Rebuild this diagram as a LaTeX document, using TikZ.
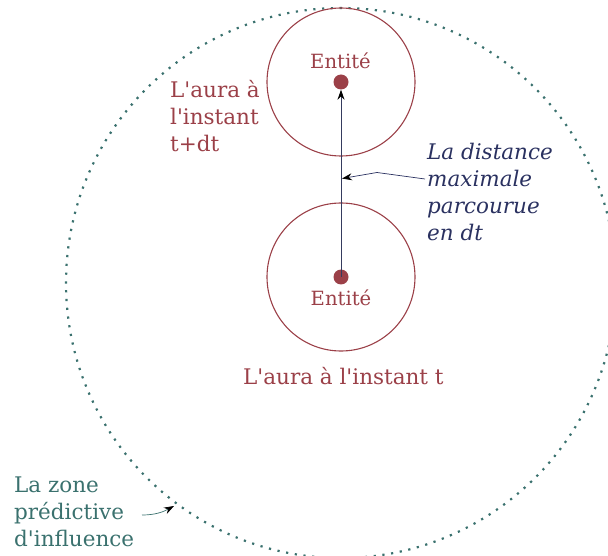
\documentclass[tikz,border=0pt]{standalone}
\usepackage{fontspec}
\setmainfont{DejaVu Serif}
\usetikzlibrary{arrows.meta}
\definecolor{aurared}{HTML}{9B4048}
\definecolor{zoneteal}{HTML}{3A716E}
\definecolor{distnavy}{HTML}{2A3160}
\definecolor{linenavy}{HTML}{353B5E}
\newcommand{\ap}{\textquotesingle}
\tikzset{
  aura/.style={draw=aurared, line width=1.1pt, circle, minimum size=148pt, inner sep=0pt},
  entdot/.style={fill=aurared, circle, minimum size=15pt, inner sep=0pt},
  enttxt/.style={text=aurared, font=\fontsize{19.6}{27}\selectfont, inner sep=0pt},
  redtxt/.style={text=aurared, font=\fontsize{21.5}{27}\selectfont, inner sep=0pt},
  bluetxt/.style={text=distnavy, font=\fontsize{21.5}{27}\selectfont\itshape, inner sep=0pt},
  tealtxt/.style={text=zoneteal, font=\fontsize{21.5}{27}\selectfont, inner sep=0pt},
  tip/.style={-{Stealth[black,length=10pt,width=7pt]}}
}
\begin{document}
\begin{tikzpicture}[x=1pt,y=-1pt]
\useasboundingbox (0,0) rectangle (608,556);
% predictive zone
\node[draw=zoneteal, line width=2.2pt, dash pattern=on 2.2pt off 6.6pt, circle, minimum size=550pt, inner sep=0pt] (zone) at (341,283) {};
% auras
\node[aura] (auratop) at (341,82) {};
\node[aura] (aurabot) at (341,277) {};
\node[entdot] (e1) at (341,82) {};
\node[entdot] (e2) at (341,277) {};
\node[enttxt, anchor=base] (ent1) at (340.5,68.5) {Entité};
\node[enttxt, anchor=base] (ent2) at (341,305.5) {Entité};
% movement arrow
\draw[linenavy, line width=1pt, tip] (e2.center) -- (e1.south);
% labels
\node[redtxt, anchor=base west] (labt) at (243,384) {L\ap aura à l\ap instant t};
\node[redtxt, anchor=north west, align=left] (labtdt) at (170,79.7) {L\ap aura à\\l\ap instant\\t+dt};
\node[bluetxt, anchor=north west, align=left] (dist) at (427,142.7) {La distance\\maximale\\parcourue\\en dt};
\node[tealtxt, anchor=north west, align=left] (zonelab) at (14,476.3) {La zone\\prédictive\\d\ap influence};
% connectors
\coordinate (dstart) at (425,179);
\coordinate (dbend) at (377,172.5);
\coordinate (dend) at (342,178.5);
\draw[distnavy, line width=0.7pt, tip] (dstart) -- (dbend) -- (dend);
\coordinate (zstart) at (142,515);
\coordinate (zend) at (174,506);
\draw[zoneteal, line width=0.7pt, tip] (zstart) .. controls (155,515) and (163,512) .. (zend);
\end{tikzpicture}
\end{document}
